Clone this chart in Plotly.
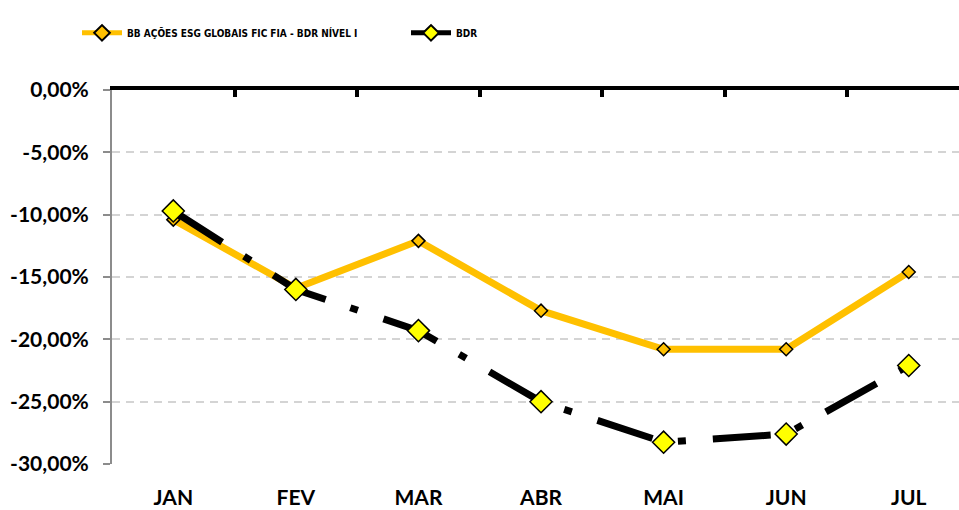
import plotly.graph_objects as go

months = ["JAN", "FEV", "MAR", "ABR", "MAI", "JUN", "JUL"]
fund_name = "BB AÇÕES ESG GLOBAIS FIC FIA - BDR NÍVEL I"
fund_values = [-10.4, -15.9, -12.1, -17.7, -20.8, -20.8, -14.6]
bdr_name = "BDR"
bdr_values = [-9.7, -16.0, -19.3, -25.0, -28.25, -27.6, -22.1]
y_ticks = [0, -5, -10, -15, -20, -25, -30]
y_tick_text = ["0,00%", "-5,00%", "-10,00%", "-15,00%", "-20,00%", "-25,00%", "-30,00%"]
boundaries = [-0.5, 0.5, 1.5, 2.5, 3.5, 4.5, 5.5]

ORANGE = "#FFC000"
YELLOW = "#FFFF00"

fig = go.Figure()
fig.add_trace(go.Scatter(
    x=months, y=fund_values, name=fund_name, mode="lines+markers",
    line=dict(color=ORANGE, width=7),
    marker=dict(symbol="diamond", size=10, color=ORANGE, line=dict(color="black", width=1.5)),
))
fig.add_trace(go.Scatter(
    x=months, y=bdr_values, name=bdr_name, mode="lines+markers",
    line=dict(color="black", width=7, dash="58px,26px,8px,27px"),
    marker=dict(symbol="diamond", size=17, color=YELLOW, line=dict(color="black", width=1.5)),
))
# helper trace so the top (0%) axis line with its category-boundary ticks is drawn
fig.add_trace(go.Scatter(
    x=boundaries[:1], y=y_ticks[:1], xaxis="x2", mode="markers",
    marker=dict(opacity=0), showlegend=False, hoverinfo="skip",
))

font_fam = "Lato"
fig.update_layout(
    width=959, height=510,
    margin=dict(l=112, r=0, t=90, b=46),
    paper_bgcolor="white", plot_bgcolor="white",
    showlegend=True,
    legend=dict(orientation="h", xref="container", yref="container",
                x=0.0803, y=0.964, xanchor="left", yanchor="top",
                entrywidth=274, entrywidthmode="pixels", itemsizing="constant",
                itemwidth=40,
                font=dict(family="DejaVu Sans Condensed", size=10, color="black", weight="bold")),
    xaxis=dict(type="category", range=[-0.5, 6.41], showline=False, showgrid=False,
               ticks="", zeroline=False, ticklabelstandoff=19, automargin=False,
               tickfont=dict(family=font_fam, size=21, color="black", weight="bold")),
    xaxis2=dict(overlaying="x", anchor="y", side="top", type="linear",
                range=[-0.5, 6.41], showline=True, linecolor="black", linewidth=4,
                ticks="inside", ticklen=7, tickwidth=4, tickcolor="black",
                tickmode="array", tickvals=boundaries, automargin=False,
                showticklabels=False, showgrid=False, zeroline=False),
    yaxis=dict(range=[-30, 0], tickmode="array", tickvals=y_ticks, ticktext=y_tick_text,
               showline=True, linecolor="#8c8c8c", linewidth=2, automargin=False,
               ticks="outside", ticklen=7, tickwidth=1.5, tickcolor="#8c8c8c",
               showgrid=True, gridcolor="#d4d4d4", gridwidth=1.5, griddash="8px,6px",
               zeroline=False, ticklabelstandoff=10,
               tickfont=dict(family=font_fam, size=21, color="black", weight="bold")),
)
fig.write_html("out.html", config={"displayModeBar": False},
               post_script="document.body.style.margin='0';document.body.style.overflow='hidden';")
